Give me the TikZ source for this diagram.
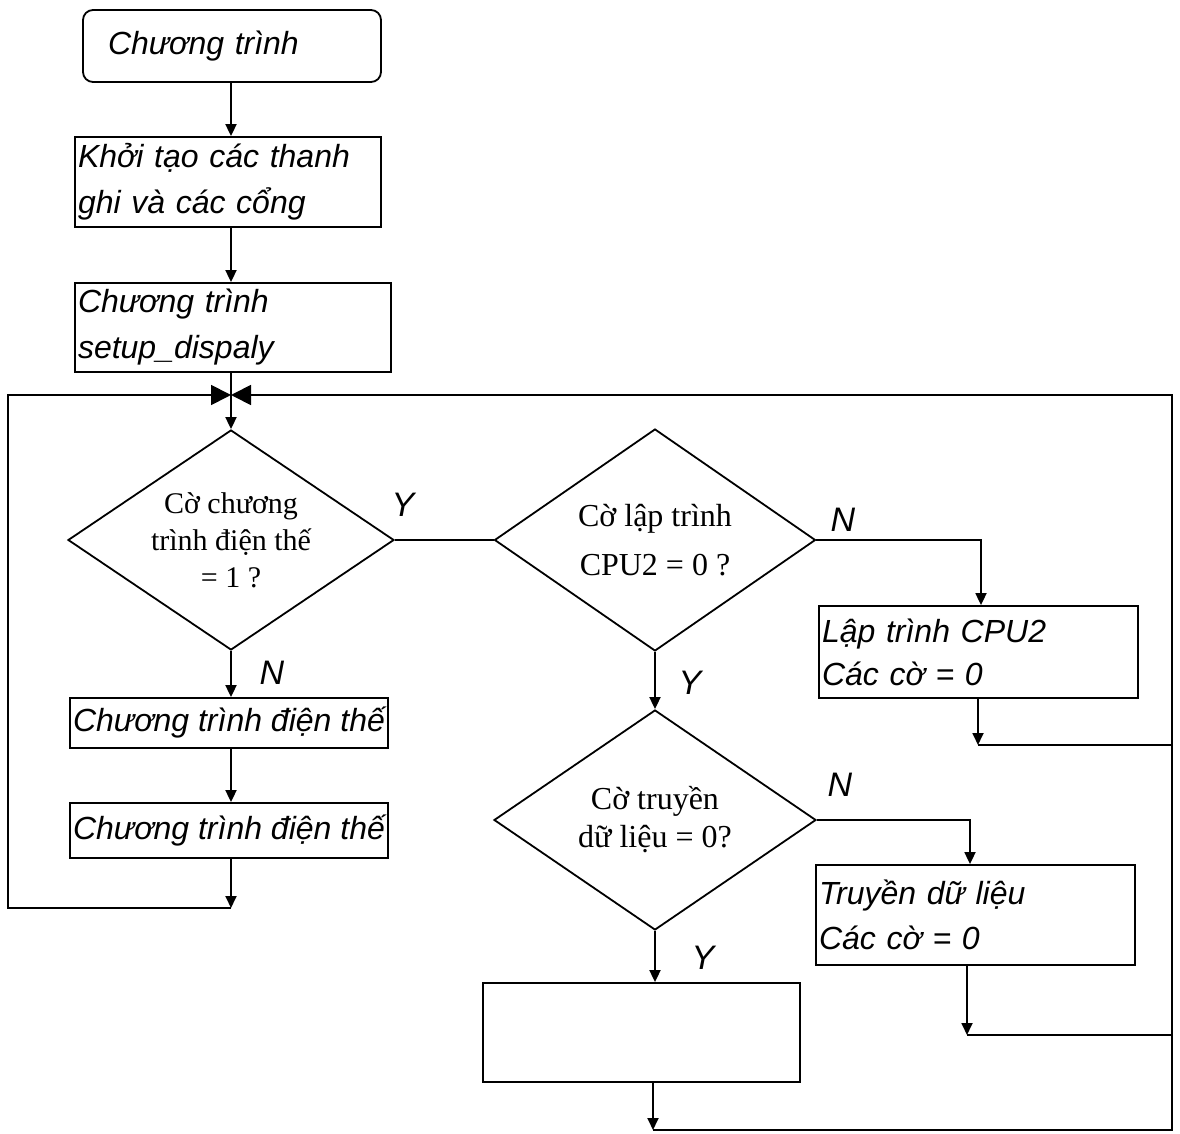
\documentclass[tikz,border=0pt]{standalone}
\usepackage{fontspec}
\setmainfont{Liberation Serif}
\setsansfont{Liberation Sans}
\usetikzlibrary{shapes.geometric,arrows.meta}
\begin{document}
\begin{tikzpicture}[x=0.5pt,y=-0.5pt,
  line width=0.9pt,
  arr/.style={-{Triangle[length=6pt,width=5.5pt]}},
  bigarr/.style={-{Triangle[length=10pt,width=10pt]}},
  box/.style={draw, rectangle, inner xsep=1.5pt, inner ysep=0pt, align=left, font=\sffamily\itshape\fontsize{16}{23}\selectfont},
  cbox/.style={draw, rectangle, inner sep=0pt, font=\sffamily\itshape\fontsize{16}{19}\selectfont},
  dia/.style={draw, diamond, inner sep=0pt, align=center, font=\fontsize{16}{24}\selectfont},
  lbl/.style={font=\sffamily\itshape\fontsize{17}{20}\selectfont}
]
\useasboundingbox (0,0) rectangle (1180,1134);

% process boxes
\node[box, rounded corners=5pt, text width=124pt, inner xsep=12.5pt, minimum height=36pt] (start) at (232,46) {Chương trình};
\node[box, text width=150pt, minimum height=45pt] (init) at (228,182) {Khởi tạo các thanh\\ghi và các cổng};
\node[box, text width=155pt, minimum height=44.5pt] (setup) at (233,327.5) {Chương trình\\setup\_dispaly};

% decisions
\node[dia, minimum width=163pt, minimum height=110pt, shape aspect=1.48, font=\fontsize{15}{18.5}\selectfont] (d1) at (231,540) {Cờ chương\\trình điện thế\\= 1 ?};
\node[dia, minimum width=160.5pt, minimum height=111pt, shape aspect=1.45, font=\fontsize{16}{24.5}\selectfont] (d2) at (655,540) {Cờ lập trình\\CPU2 = 0 ?};
\node[dia, minimum width=161pt, minimum height=110pt, shape aspect=1.46, font=\fontsize{16}{19}\selectfont] (d3) at (655,820) {Cờ truyền\\dữ liệu = 0?};

\node[cbox, minimum width=159pt, minimum height=25pt] (p4) at (229,723) {Chương trình điện thế};
\node[cbox, minimum width=159pt, minimum height=27.5pt] (p5) at (229,830.5) {Chương trình điện thế};
\node[box, text width=156.5pt, minimum height=46pt, font=\sffamily\itshape\fontsize{16}{21.5}\selectfont] (lap) at (978.5,652) {Lập trình CPU2\\Các cờ = 0};
\node[box, text width=156.5pt, minimum height=50pt, font=\sffamily\itshape\fontsize{16}{22.5}\selectfont] (tr) at (975.5,915) {Truyền dữ liệu\\Các cờ = 0};
\node[draw, rectangle, minimum width=158.5pt, minimum height=49.5pt, inner sep=0pt] (emp) at (641.5,1032.5) {};

% coordinates
\coordinate (merge) at (231,395);
\coordinate (lb) at (231,908);
\coordinate (lc) at (8,395);
\coordinate (rc) at (1172,395);
\coordinate (eb) at (653,1130);
\coordinate (lj) at (978,745);
\coordinate (tj) at (967,1035);
\coordinate (c3) at (981,0);
\coordinate (c4) at (970,0);

% connectors
\draw[arr] (start.south -| merge) -- (init.north -| merge);
\draw[arr] (init.south -| merge) -- (setup.north -| merge);
\draw[arr] (setup.south -| merge) -- (merge) -- (d1.north);
\draw[arr] (d1.south) -- (d1.south |- p4.north);
\draw[arr] (p4.south -| d1.south) -- (p5.north -| d1.south);
\draw[arr] (p5.south -| d1.south) -- (lb);
\draw[bigarr] (lb) -| (lc) -- (merge);

\draw (d1.east) -- (d2.west);
\draw[arr] (d2.east) -| (c3 |- lap.north);
\draw[arr] (lap.south -| lj) -- (lj);
\draw (lj) -- (lj -| rc);
\draw[arr] (d2.south) -- (d3.north);
\draw[arr] (d3.east) -| (c4 |- tr.north);
\draw[arr] (tr.south -| tj) -- (tj);
\draw (tj) -- (tj -| rc);
\draw[arr] (d3.south) -- (d3.south |- emp.north);
\draw[arr] (emp.south -| eb) -- (eb);
\draw[bigarr] (eb) -| (rc) -- (merge);

% labels
\node[lbl] (ly1) at (403,505) {Y};
\node[lbl] (ln1) at (272,673) {N};
\node[lbl] (ln2) at (843,520) {N};
\node[lbl] (ly2) at (690,683) {Y};
\node[lbl] (ln3) at (840,785) {N};
\node[lbl] (ly3) at (703,958) {Y};
\end{tikzpicture}
\end{document}
